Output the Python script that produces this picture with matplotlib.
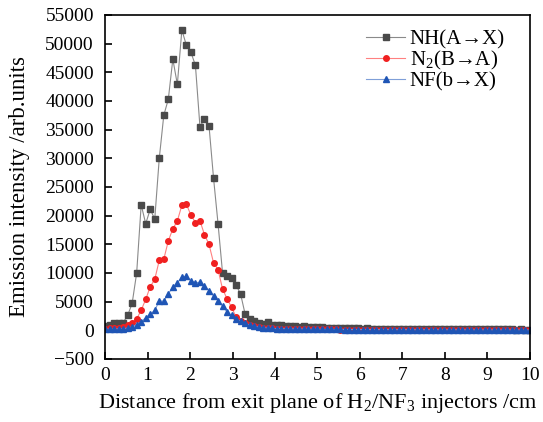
import numpy as np
import matplotlib.pyplot as plt

plt.rcParams['font.family'] = ['Liberation Serif', 'DejaVu Serif']
plt.rcParams['mathtext.fontset'] = 'custom'
plt.rcParams['mathtext.rm'] = 'Liberation Serif'

# 95 measurement positions, 0 to 10 cm
distance = np.linspace(0, 10, 95)

nh = [700, 900, 1200, 1300, 1350, 2600, 4700, 10000,
      21900, 18600, 21100, 19400, 30000, 37500, 40300, 47300, 42900,
      52400, 49700, 48500, 46200, 35500, 36900, 35700,
      26600, 18600, 10000, 9400, 9200, 7900, 6300,
      2800, 2000, 1600, 1200, 1100, 1400, 900, 950, 900,
      800, 750, 700, 650, 700, 600, 550, 600, 500, 450,
      450, 400, 420, 380, 350, 360, 330, 300, 320, 290,
      280, 270, 260, 270, 250, 240, 250, 230, 220, 230,
      220, 210, 200, 210, 200, 190, 200, 190, 180, 190,
      180, 170, 180, 170, 160, 170, 160, 150, 160, 150, 150, 140, 150, 140, 140]

n2 = [300, 350, 380, 420, 500, 900, 1300, 2000,
      3500, 5400, 7600, 8900, 12200, 12400, 15600, 17700, 19100,
      21800, 22000, 20100, 18800, 19100, 16700, 15000,
      11800, 10600, 7200, 5500, 4000, 2300, 1700,
      1200, 900, 700, 550, 450, 400, 350, 300, 280,
      260, 250, 230, 220, 210, 200, 190, 180, 170, 160,
      150, 150, 140, 140, 130, 130, 120, 120, 110, 110,
      100, 100, 100, 90, 90, 90, 80, 80, 80, 80,
      70, 70, 70, 70, 60, 60, 60, 60, 60, 50,
      50, 50, 50, 50, 50, 40, 40, 40, 40, 40, 40, 30, 30, 30, 30]

nf = [200, 200, 220, 250, 280, 400, 600, 1000,
      1500, 2200, 2800, 3500, 5100, 5100, 6400, 7500, 8300,
      9300, 9400, 8600, 8300, 8400, 7700, 6900,
      6000, 5200, 4200, 3200, 2600, 2000, 1600,
      1200, 900, 700, 550, 450, 380, 330, 300, 280,
      260, 240, 230, 220, 210, 200, 190, 180, 170, 160,
      160, 150, 150, 140, 140, 130, 130, 120, 120, 110,
      110, 100, 100, 100, 90, 90, 90, 90, 80, 80,
      80, 80, 70, 70, 70, 70, 60, 60, 60, 60,
      60, 50, 50, 50, 50, 50, 50, 40, 40, 40, 40, 40, 40, 40, 40]

y_ticks = list(range(-5000, 55001, 5000))
y_labels = ['\u2212500'] + [str(v) for v in y_ticks[1:]]
x_ticks = list(range(0, 11))

fig = plt.figure(figsize=(5.43, 4.22), dpi=100)
ax = fig.add_axes([0.1934, 0.1493, 0.7826, 0.8152])

ax.plot(distance, nh, color='#8a8a8a', lw=0.8, marker='s', ms=3.8,
        mfc='#4a4a4a', mec='#4a4a4a', label='NH(A\u2192X)')
ax.plot(distance, n2, color='#ff8080', lw=0.8, marker='o', ms=4.0,
        mfc='#f02020', mec='#f02020', label='N$_\\mathrm{2}$(B\u2192A)')
ax.plot(distance, nf, color='#7f9fd8', lw=0.8, marker='^', ms=4.2,
        mfc='#1f55b5', mec='#1f55b5', label='NF(b\u2192X)')

ax.set_xlim(0, 10)
ax.set_ylim(-5000, 55000)
ax.set_xticks(x_ticks)
ax.set_yticks(y_ticks)
ax.set_yticklabels(y_labels)
ax.tick_params(direction='in', length=5, width=1.2, labelsize=14)
ax.tick_params(axis='x', pad=6)
ax.tick_params(axis='y', pad=8)
for s in ax.spines.values():
    s.set_linewidth(1.2)

ax.set_xlabel('Distance from exit plane of H$_\\mathrm{2}$/NF$_\\mathrm{3}$ injectors /cm',
              fontsize=16, labelpad=5)
ax.set_ylabel('Emission intensity /arb.units', fontsize=16.5, labelpad=11)

ax.legend(loc='upper right', frameon=False, fontsize=15, handlelength=1.9,
          handletextpad=0.2, labelspacing=0.0, borderaxespad=0.3,
          bbox_to_anchor=(0.975, 1.0))

fig.savefig('out.png', dpi=100)
